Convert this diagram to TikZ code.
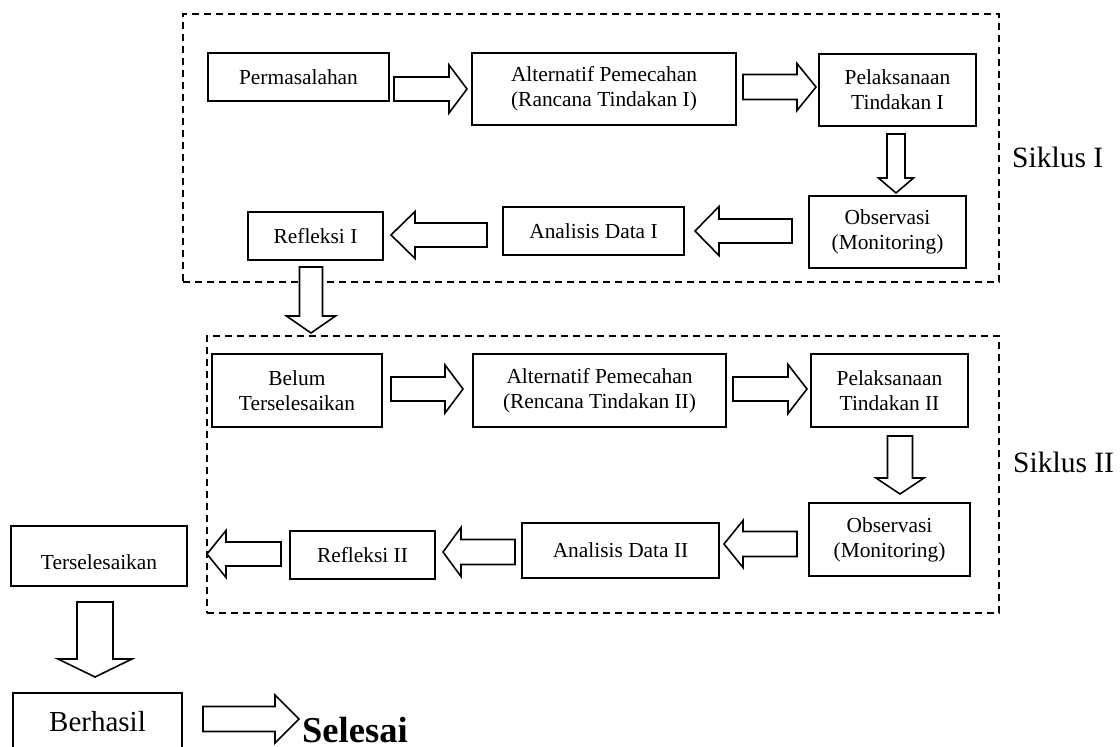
\documentclass[tikz,border=0pt]{standalone}
\usepackage{fontspec}
\setmainfont{Liberation Serif}
\newcommand{\blockarrow}[7]{% #1 name, #2 tail, #3 angle, #4 length, #5 shaft half, #6 head half, #7 head length
  \begin{scope}[shift={#2}, rotate=#3]
    \draw[barrow] (0,-#5) -- ({#4-#7},-#5) -- ({#4-#7},-#6) -- (#4,0) -- ({#4-#7},#6) -- ({#4-#7},#5) -- (0,#5) -- cycle;
    \coordinate (#1) at (#4,0);
  \end{scope}}
\begin{document}
\begin{tikzpicture}[x=1pt,y=-1pt,
  box/.style={draw, line width=1.7pt, align=center, inner sep=0pt, font=\fontsize{21.4}{25}\selectfont},
  cyclebox/.style={draw, line width=1.8pt, dash pattern=on 7pt off 5pt, inner sep=0pt},
  barrow/.style={draw, line width=1.6pt, line join=miter, fill=white},
  lbl/.style={font=\fontsize{29.5}{32}\selectfont, inner sep=0pt, anchor=base west}]
\useasboundingbox (0,0) rectangle (1120,747);
\clip (0,0) rectangle (1120,747);

% cycle frames
\node[cyclebox, minimum width=816, minimum height=268] (c1) at (591,148) {};
\node[cyclebox, minimum width=792, minimum height=277] (c2) at (603,474.5) {};

% cycle I
\node[box, minimum width=181, minimum height=48] (perm) at (298.5,77) {Permasalahan};
\node[box, minimum width=264, minimum height=72] (alt1) at (604,89) {Alternatif Pemecahan\\(Rancana Tindakan I)};
\node[box, minimum width=157, minimum height=72] (pel1) at (897.5,90) {Pelaksanaan\\Tindakan I};
\node[box, minimum width=157, minimum height=72] (obs1) at (887.5,232) {Observasi\\(Monitoring)};
\node[box, minimum width=181, minimum height=48] (ana1) at (593.5,231) {Analisis Data I};
\node[box, minimum width=135, minimum height=48] (ref1) at (315.5,236) {Refleksi I};

% cycle II
\node[box, minimum width=170, minimum height=73] (belum) at (297,390.5) {Belum\\Terselesaikan};
\node[box, minimum width=253, minimum height=73] (alt2) at (599.5,390.5) {Alternatif Pemecahan\\(Rencana Tindakan II)};
\node[box, minimum width=157, minimum height=73] (pel2) at (889.5,390.5) {Pelaksanaan\\Tindakan II};
\node[box, minimum width=161, minimum height=73] (obs2) at (889.5,539.5) {Observasi\\(Monitoring)};
\node[box, minimum width=197, minimum height=55] (ana2) at (620.5,550.5) {Analisis Data II};
\node[box, minimum width=145, minimum height=48] (ref2) at (362.5,555) {Refleksi II};

% outside
\node[box, minimum width=176, minimum height=60] (ts) at (99,556) {};
\node[inner sep=0pt, font=\fontsize{21.4}{25}\selectfont] (tstext) at ([yshift=-6]ts.center) {Terselesaikan};
\node[box, minimum width=169, minimum height=58, font=\fontsize{29}{32}\selectfont] (berhasil) at (97.5,722) {Berhasil};
\node[inner sep=0pt, anchor=base west, font=\fontsize{36.5}{40}\selectfont\bfseries] (selesai) at (302,742) {Selesai};

% cycle labels
\node[lbl] (s1) at (1012,167) {Siklus I};
\node[lbl] (s2) at (1013,472) {Siklus II};

% block arrows
\blockarrow{a1}{(394,89)}{0}{73}{12}{24}{18}
\blockarrow{a2}{(743,87)}{0}{73}{12.5}{23.5}{19}
\blockarrow{d1}{(896,134)}{-90}{59}{9}{17.5}{15}
\blockarrow{l1}{(792,231)}{180}{97}{12}{24.5}{24}
\blockarrow{l2}{(487,235)}{180}{96}{12}{23.5}{24}
\blockarrow{d2}{(311,267)}{-90}{66}{11.5}{24.5}{17}
\blockarrow{b1}{(391,389)}{0}{72}{12}{24}{18}
\blockarrow{b2}{(733,389)}{0}{74}{12}{24.5}{19}
\blockarrow{d3}{(900,436)}{-90}{58}{12.5}{24}{16}
\blockarrow{b3}{(797,544)}{180}{73}{12.5}{23.5}{19}
\blockarrow{b4}{(515,552)}{180}{72}{12.5}{24.5}{18}
\blockarrow{b5}{(281,554)}{180}{74}{12}{23.5}{19}
\blockarrow{d4}{(95,602)}{-90}{75}{18}{37}{18}
\blockarrow{s}{(203,719)}{0}{96}{12.5}{24}{24}
\end{tikzpicture}
\end{document}
